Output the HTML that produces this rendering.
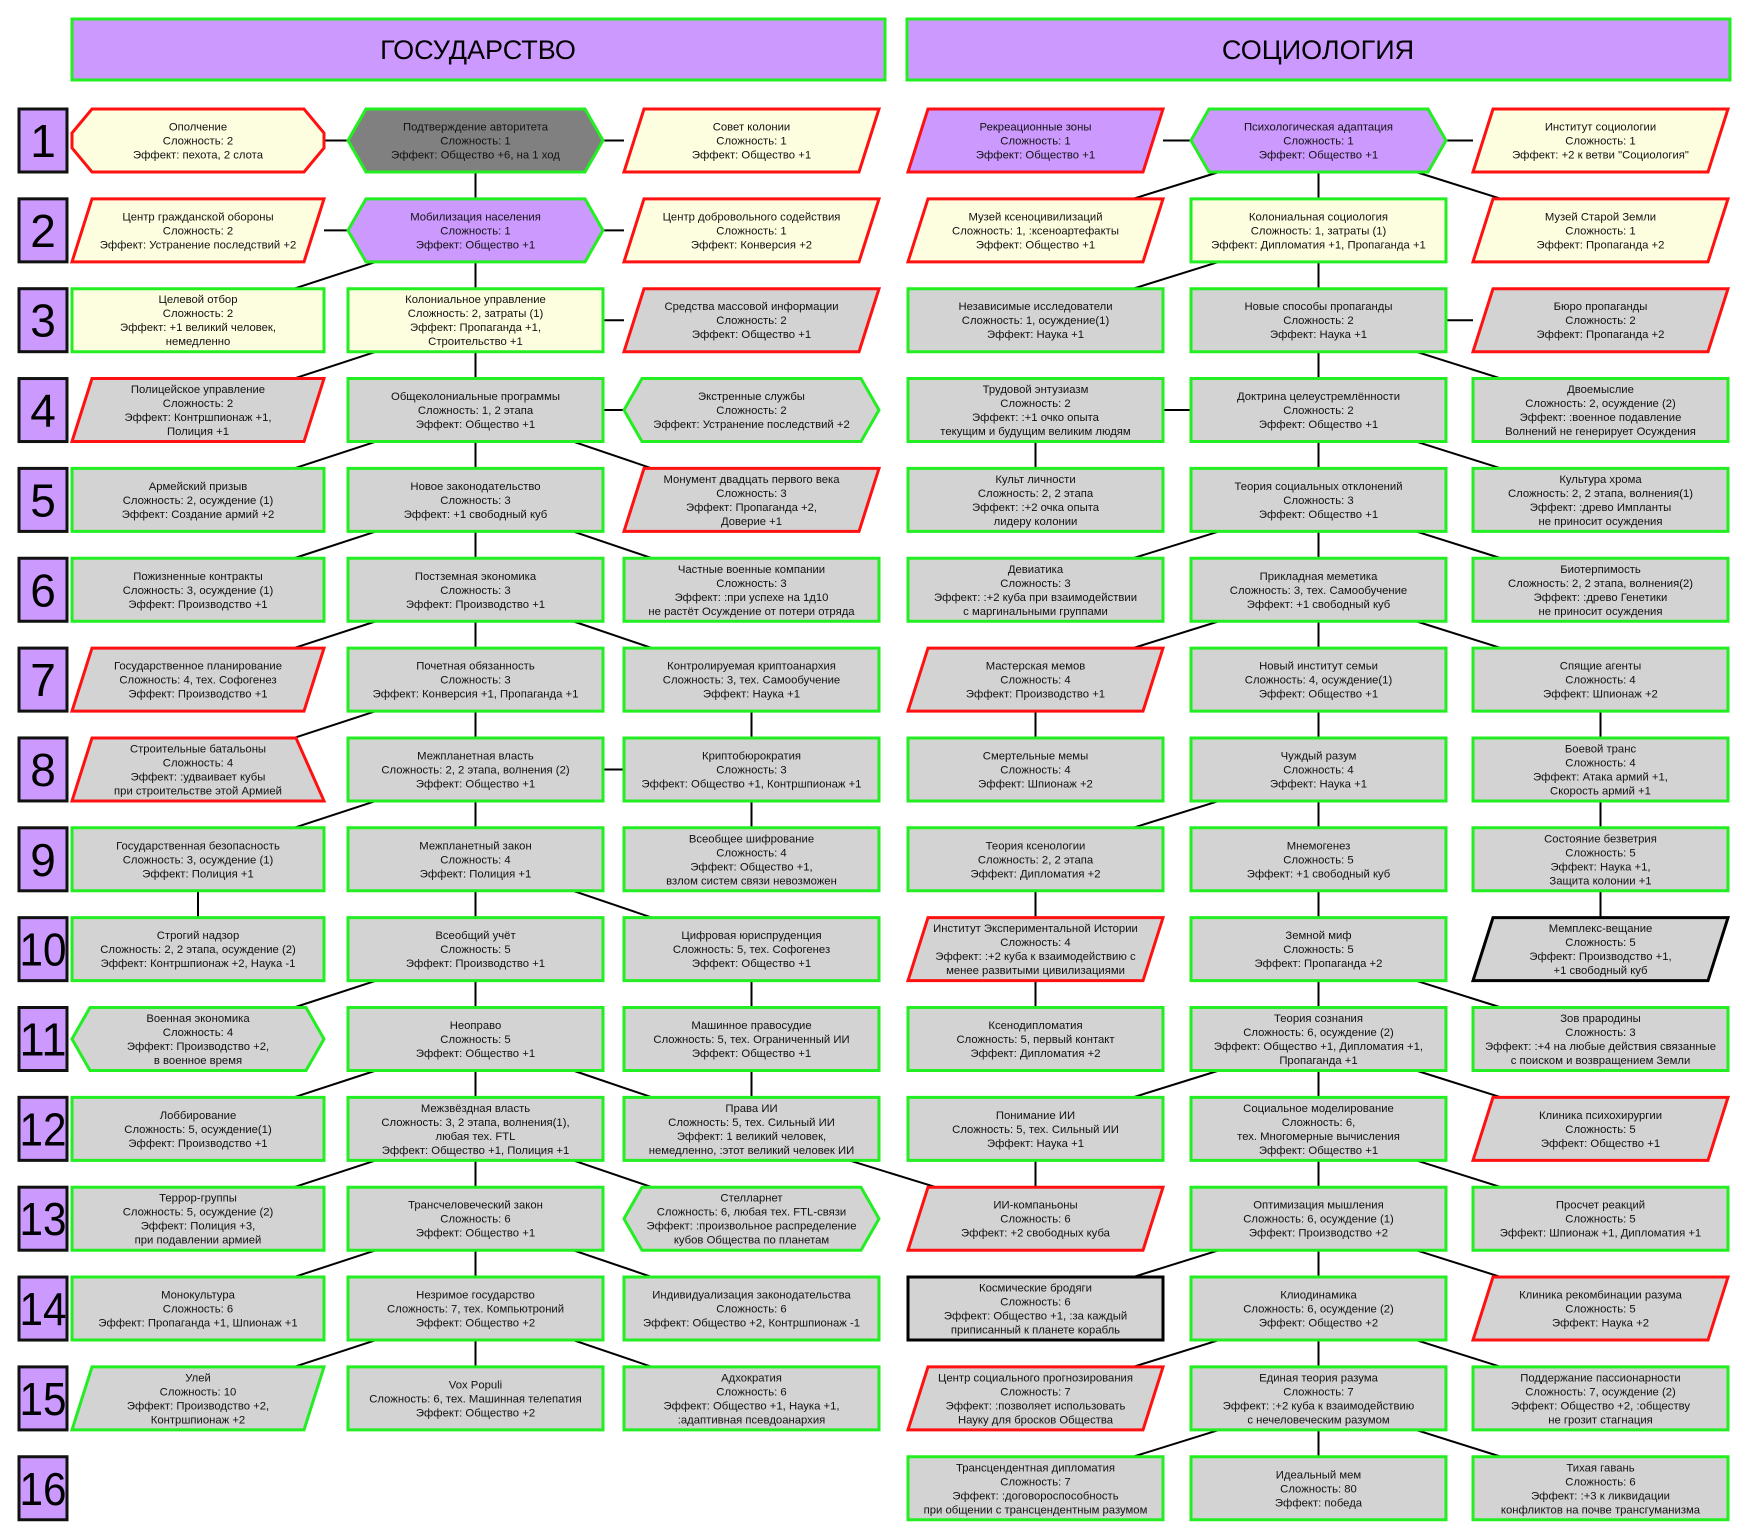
<!DOCTYPE html>
<html><head><meta charset="utf-8">
<style>
html,body{margin:0;padding:0;background:#fff;}
svg{display:block;}
text{font-family:"Liberation Sans",sans-serif;}
</style></head>
<body>
<svg id="s" xmlns="http://www.w3.org/2000/svg" width="1749" height="1536" viewBox="0 0 1749 1536">
<rect x="0" y="0" width="1749" height="1536" fill="#fff"/>
<g id="lines" stroke="#000" stroke-width="2" fill="none"></g>
<rect x="72" y="19" width="813" height="61" fill="#cc99ff" stroke="#22ee22" stroke-width="3"/>
<text x="478" y="59" font-size="27" text-anchor="middle">ГОСУДАРСТВО</text>
<rect x="907" y="19" width="823" height="61" fill="#cc99ff" stroke="#22ee22" stroke-width="3"/>
<text x="1318" y="59" font-size="27" text-anchor="middle">СОЦИОЛОГИЯ</text>
<g id="nums"></g>
<g id="nodes"></g>
</svg>
<script>
(function(){
var NS="http://www.w3.org/2000/svg";
var COLX={A:72,B:348,C:624,D:908,E:1191,F:1473};var W=255,H=63;
function wOf(c){return c=="A"?252:W;}
function rowTop(r){return 109+89.85*(r-1);}
var FILL={Y:"#fdfde0",G:"#d3d3d3",P:"#cc99ff",D:"#808080"};
var BRD={g:"#22ee22",r:"#ff1111",k:"#000000"};
var N=[
["A",1,"oct","Y","r",["Ополчение","Сложность: 2","Эффект: пехота, 2 слота"]],
["B",1,"hex","D","g",["Подтверждение авторитета","Сложность: 1","Эффект: Общество +6, на 1 ход"]],
["C",1,"para","Y","r",["Совет колонии","Сложность: 1","Эффект: Общество +1"]],
["D",1,"para","P","r",["Рекреационные зоны","Сложность: 1","Эффект: Общество +1"]],
["E",1,"hex","P","g",["Психологическая адаптация","Сложность: 1","Эффект: Общество +1"]],
["F",1,"para","Y","r",["Институт социологии","Сложность: 1","Эффект: +2 к ветви \"Социология\""]],
["A",2,"para","Y","r",["Центр гражданской обороны","Сложность: 2","Эффект: Устранение последствий +2"]],
["B",2,"hex","P","g",["Мобилизация населения","Сложность: 1","Эффект: Общество +1"]],
["C",2,"para","Y","r",["Центр добровольного содействия","Сложность: 1","Эффект: Конверсия +2"]],
["D",2,"para","Y","r",["Музей ксеноцивилизаций","Сложность: 1, :ксеноартефакты","Эффект: Общество +1"]],
["E",2,"rect","Y","g",["Колониальная социология","Сложность: 1, затраты (1)","Эффект: Дипломатия +1, Пропаганда +1"]],
["F",2,"para","Y","r",["Музей Старой Земли","Сложность: 1","Эффект: Пропаганда +2"]],
["A",3,"rect","Y","g",["Целевой отбор","Сложность: 2","Эффект: +1 великий человек,","немедленно"]],
["B",3,"rect","Y","g",["Колониальное управление","Сложность: 2, затраты (1)","Эффект: Пропаганда +1,","Строительство +1"]],
["C",3,"para","G","r",["Средства массовой информации","Сложность: 2","Эффект: Общество +1"]],
["D",3,"rect","G","g",["Независимые исследователи","Сложность: 1, осуждение(1)","Эффект: Наука +1"]],
["E",3,"rect","G","g",["Новые способы пропаганды","Сложность: 2","Эффект: Наука +1"]],
["F",3,"para","G","r",["Бюро пропаганды","Сложность: 2","Эффект: Пропаганда +2"]],
["A",4,"para","G","r",["Полицейское управление","Сложность: 2","Эффект: Контршпионаж +1,","Полиция +1"]],
["B",4,"rect","G","g",["Общеколониальные программы","Сложность: 1, 2 этапа","Эффект: Общество +1"]],
["C",4,"hex","G","g",["Экстренные службы","Сложность: 2","Эффект: Устранение последствий +2"]],
["D",4,"rect","G","g",["Трудовой энтузиазм","Сложность: 2","Эффект: :+1 очко опыта","текущим и будущим великим людям"]],
["E",4,"rect","G","g",["Доктрина целеустремлённости","Сложность: 2","Эффект: Общество +1"]],
["F",4,"rect","G","g",["Двоемыслие","Сложность: 2, осуждение (2)","Эффект: :военное подавление","Волнений не генерирует Осуждения"]],
["A",5,"rect","G","g",["Армейский призыв","Сложность: 2, осуждение (1)","Эффект: Создание армий +2"]],
["B",5,"rect","G","g",["Новое законодательство","Сложность: 3","Эффект: +1 свободный куб"]],
["C",5,"para","G","r",["Монумент двадцать первого века","Сложность: 3","Эффект: Пропаганда +2,","Доверие +1"]],
["D",5,"rect","G","g",["Культ личности","Сложность: 2, 2 этапа","Эффект: :+2 очка опыта","лидеру колонии"]],
["E",5,"rect","G","g",["Теория социальных отклонений","Сложность: 3","Эффект: Общество +1"]],
["F",5,"rect","G","g",["Культура хрома","Сложность: 2, 2 этапа, волнения(1)","Эффект: :древо Импланты","не приносит осуждения"]],
["A",6,"rect","G","g",["Пожизненные контракты","Сложность: 3, осуждение (1)","Эффект: Производство +1"]],
["B",6,"rect","G","g",["Постземная экономика","Сложность: 3","Эффект: Производство +1"]],
["C",6,"rect","G","g",["Частные военные компании","Сложность: 3","Эффект: :при успехе на 1д10","не растёт Осуждение от потери отряда"]],
["D",6,"rect","G","g",["Девиатика","Сложность: 3","Эффект: :+2 куба при взаимодействии","с маргинальными группами"]],
["E",6,"rect","G","g",["Прикладная меметика","Сложность: 3, тех. Самообучение","Эффект: +1 свободный куб"]],
["F",6,"rect","G","g",["Биотерпимость","Сложность: 2, 2 этапа, волнения(2)","Эффект: :древо Генетики","не приносит осуждения"]],
["A",7,"para","G","r",["Государственное планирование","Сложность: 4, тех. Софогенез","Эффект: Производство +1"]],
["B",7,"rect","G","g",["Почетная обязанность","Сложность: 3","Эффект: Конверсия +1, Пропаганда +1"]],
["C",7,"rect","G","g",["Контролируемая криптоанархия","Сложность: 3, тех. Самообучение","Эффект: Наука +1"]],
["D",7,"para","G","r",["Мастерская мемов","Сложность: 4","Эффект: Производство +1"]],
["E",7,"rect","G","g",["Новый институт семьи","Сложность: 4, осуждение(1)","Эффект: Общество +1"]],
["F",7,"rect","G","g",["Спящие агенты","Сложность: 4","Эффект: Шпионаж +2"]],
["A",8,"trap","G","r",["Строительные батальоны","Сложность: 4","Эффект: :удваивает кубы","при строительстве этой Армией"]],
["B",8,"rect","G","g",["Межпланетная власть","Сложность: 2, 2 этапа, волнения (2)","Эффект: Общество +1"]],
["C",8,"rect","G","g",["Криптобюрократия","Сложность: 3","Эффект: Общество +1, Контршпионаж +1"]],
["D",8,"rect","G","g",["Смертельные мемы","Сложность: 4","Эффект: Шпионаж +2"]],
["E",8,"rect","G","g",["Чуждый разум","Сложность: 4","Эффект: Наука +1"]],
["F",8,"rect","G","g",["Боевой транс","Сложность: 4","Эффект: Атака армий +1,","Скорость армий +1"]],
["A",9,"rect","G","g",["Государственная безопасность","Сложность: 3, осуждение (1)","Эффект: Полиция +1"]],
["B",9,"rect","G","g",["Межпланетный закон","Сложность: 4","Эффект: Полиция +1"]],
["C",9,"rect","G","g",["Всеобщее шифрование","Сложность: 4","Эффект: Общество +1,","взлом систем связи невозможен"]],
["D",9,"rect","G","g",["Теория ксенологии","Сложность: 2, 2 этапа","Эффект: Дипломатия +2"]],
["E",9,"rect","G","g",["Мнемогенез","Сложность: 5","Эффект: +1 свободный куб"]],
["F",9,"rect","G","g",["Состояние безветрия","Сложность: 5","Эффект: Наука +1,","Защита колонии +1"]],
["A",10,"rect","G","g",["Строгий надзор","Сложность: 2, 2 этапа, осуждение (2)","Эффект: Контршпионаж +2, Наука -1"]],
["B",10,"rect","G","g",["Всеобщий учёт","Сложность: 5","Эффект: Производство +1"]],
["C",10,"rect","G","g",["Цифровая юриспруденция","Сложность: 5, тех. Софогенез","Эффект: Общество +1"]],
["D",10,"para","G","r",["Институт Экспериментальной Истории","Сложность: 4","Эффект: :+2 куба к взаимодействию с","менее развитыми цивилизациями"]],
["E",10,"rect","G","g",["Земной миф","Сложность: 5","Эффект: Пропаганда +2"]],
["F",10,"para","G","k",["Мемплекс-вещание","Сложность: 5","Эффект: Производство +1,","+1 свободный куб"]],
["A",11,"hex","G","g",["Военная экономика","Сложность: 4","Эффект: Производство +2,","в военное время"]],
["B",11,"rect","G","g",["Неоправо","Сложность: 5","Эффект: Общество +1"]],
["C",11,"rect","G","g",["Машинное правосудие","Сложность: 5, тех. Ограниченный ИИ","Эффект: Общество +1"]],
["D",11,"rect","G","g",["Ксенодипломатия","Сложность: 5, первый контакт","Эффект: Дипломатия +2"]],
["E",11,"rect","G","g",["Теория сознания","Сложность: 6, осуждение (2)","Эффект: Общество +1, Дипломатия +1,","Пропаганда +1"]],
["F",11,"rect","G","g",["Зов прародины","Сложность: 3","Эффект: :+4 на любые действия связанные","с поиском и возвращением Земли"]],
["A",12,"rect","G","g",["Лоббирование","Сложность: 5, осуждение(1)","Эффект: Производство +1"]],
["B",12,"rect","G","g",["Межзвёздная власть","Сложность: 3, 2 этапа, волнения(1),","любая тех. FTL","Эффект: Общество +1, Полиция +1"]],
["C",12,"rect","G","g",["Права ИИ","Сложность: 5, тех. Сильный ИИ","Эффект: 1 великий человек,","немедленно, :этот великий человек ИИ"]],
["D",12,"rect","G","g",["Понимание ИИ","Сложность: 5, тех. Сильный ИИ","Эффект: Наука +1"]],
["E",12,"rect","G","g",["Социальное моделирование","Сложность: 6,","тех. Многомерные вычисления","Эффект: Общество +1"]],
["F",12,"para","G","r",["Клиника психохирургии","Сложность: 5","Эффект: Общество +1"]],
["A",13,"rect","G","g",["Террор-группы","Сложность: 5, осуждение (2)","Эффект: Полиция +3,","при подавлении армией"]],
["B",13,"rect","G","g",["Трансчеловеческий закон","Сложность: 6","Эффект: Общество +1"]],
["C",13,"hex","G","g",["Стелларнет","Сложность: 6, любая тех. FTL-связи","Эффект: :произвольное распределение","кубов Общества по планетам"]],
["D",13,"para","G","r",["ИИ-компаньоны","Сложность: 6","Эффект: +2 свободных куба"]],
["E",13,"rect","G","g",["Оптимизация мышления","Сложность: 6, осуждение (1)","Эффект: Производство +2"]],
["F",13,"rect","G","g",["Просчет реакций","Сложность: 5","Эффект: Шпионаж +1, Дипломатия +1"]],
["A",14,"rect","G","g",["Монокультура","Сложность: 6","Эффект: Пропаганда +1, Шпионаж +1"]],
["B",14,"rect","G","g",["Незримое государство","Сложность: 7, тех. Компьютроний","Эффект: Общество +2"]],
["C",14,"rect","G","g",["Индивидуализация законодательства","Сложность: 6","Эффект: Общество +2, Контршпионаж -1"]],
["D",14,"rect","G","k",["Космические бродяги","Сложность: 6","Эффект: Общество +1, :за каждый","приписанный к планете корабль"]],
["E",14,"rect","G","g",["Клиодинамика","Сложность: 6, осуждение (2)","Эффект: Общество +2"]],
["F",14,"para","G","r",["Клиника рекомбинации разума","Сложность: 5","Эффект: Наука +2"]],
["A",15,"para","G","g",["Улей","Сложность: 10","Эффект: Производство +2,","Контршпионаж +2"]],
["B",15,"rect","G","g",["Vox Populi","Сложность: 6, тех. Машинная телепатия","Эффект: Общество +2"]],
["C",15,"rect","G","g",["Адхократия","Сложность: 6","Эффект: Общество +1, Наука +1,",":адаптивная псевдоанархия"]],
["D",15,"para","G","r",["Центр социального прогнозирования","Сложность: 7","Эффект: :позволяет использовать","Науку для бросков Общества"]],
["E",15,"rect","G","g",["Единая теория разума","Сложность: 7","Эффект: :+2 куба к взаимодействию","с нечеловеческим разумом"]],
["F",15,"rect","G","g",["Поддержание пассионарности","Сложность: 7, осуждение (2)","Эффект: Общество +2, :обществу","не грозит стагнация"]],
["D",16,"rect","G","g",["Трансцендентная дипломатия","Сложность: 7","Эффект: :договороспособность","при общении с трансцендентным разумом"]],
["E",16,"rect","G","g",["Идеальный мем","Сложность: 80","Эффект: победа"]],
["F",16,"rect","G","g",["Тихая гавань","Сложность: 6","Эффект: :+3 к ликвидации","конфликтов на почве трансгуманизма"]]
];
function el(n,a,p){var e=document.createElementNS(NS,n);for(var k in a)e.setAttribute(k,a[k]);if(p)p.appendChild(e);return e;}
var nodes=document.getElementById("nodes"),lines=document.getElementById("lines"),nums=document.getElementById("nums");
for(var r=1;r<=16;r++){var y=rowTop(r);
el("rect",{x:19,y:y,width:48,height:H,fill:"#cc99ff",stroke:"#111","stroke-width":3},nums);
var a={x:43,y:y+48,"font-size":46,"text-anchor":"middle"};
if(r>9){a.textLength=47;a.lengthAdjust="spacingAndGlyphs";}
var t=el("text",a,nums);t.textContent=String(r);}
N.forEach(function(n){var x=COLX[n[0]],y=rowTop(n[1]),w=wOf(n[0]),h=H,sh=n[2],pts;
var o=20,hx=18;
if(sh=="rect")pts=[[x,y],[x+w,y],[x+w,y+h],[x,y+h]];
else if(sh=="para")pts=[[x+o,y],[x+w,y],[x+w-o,y+h],[x,y+h]];
else if(sh=="hex")pts=[[x+hx,y],[x+w-hx,y],[x+w,y+h/2],[x+w-hx,y+h],[x+hx,y+h],[x,y+h/2]];
else if(sh=="oct")pts=[[x+20,y],[x+w-20,y],[x+w,y+24],[x+w,y+h-24],[x+w-20,y+h],[x+20,y+h],[x,y+h-24],[x,y+24]];
else pts=[[x+20,y],[x+w-28,y],[x+w,y+h],[x,y+h]];
el("polygon",{points:pts.map(function(p){return p.join(",");}).join(" "),fill:FILL[n[3]],stroke:BRD[n[4]],"stroke-width":3},nodes);
var L=n[5],lh=14,cy=y+h/2,y0=cy-(L.length-1)*lh/2+4;
L.forEach(function(s,i){var t=el("text",{x:x+w/2,y:y0+i*lh,"font-size":11.3,"text-anchor":"middle",fill:"#111"},nodes);t.textContent=s;});
});
function ln(x1,y1,x2,y2){el("line",{x1:x1,y1:y1,x2:x2,y2:y2},lines);}
function cx(c){return COLX[c]+wOf(c)/2;}
function hz(c1,c2,r){var y=rowTop(r)+H/2;ln(COLX[c1]+wOf(c1),y,COLX[c2],y);}
function vt(c,r){ln(cx(c),rowTop(r)+H,cx(c),rowTop(r+1));}
function dl(p,c,r){ln(COLX[p]+28,rowTop(r)+H,COLX[c]+wOf(c)-30,rowTop(r+1));}
function dr(p,c,r){ln(COLX[p]+wOf(p)-30,rowTop(r)+H,COLX[c]+28,rowTop(r+1));}
hz("A","B",1);hz("B","C",1);hz("A","B",2);hz("B","C",2);hz("B","C",3);hz("B","C",4);hz("B","C",8);
for(var i=1;i<15;i++)vt("B",i);
[7,8,10,11].forEach(function(r){vt("C",r);});vt("A",9);
[2,3,4,5,6,7,8,10,11,12,13,14].forEach(function(r){dl("B","A",r);});
[4,5,6,9,11,12,13,14].forEach(function(r){dr("B","C",r);});
dr("C","D",12);
hz("D","E",1);hz("E","F",1);hz("E","F",3);hz("D","E",4);
for(var j=1;j<16;j++)vt("E",j);
[4,7,9,10,12].forEach(function(r){vt("D",r);});
[7,8,9].forEach(function(r){vt("F",r);});
[1,2,5,6,8,11,13,14,15].forEach(function(r){dl("E","D",r);});
[1,3,4,5,6,10,11,12,13,14,15].forEach(function(r){dr("E","F",r);});
})();
</script>
</body></html>
